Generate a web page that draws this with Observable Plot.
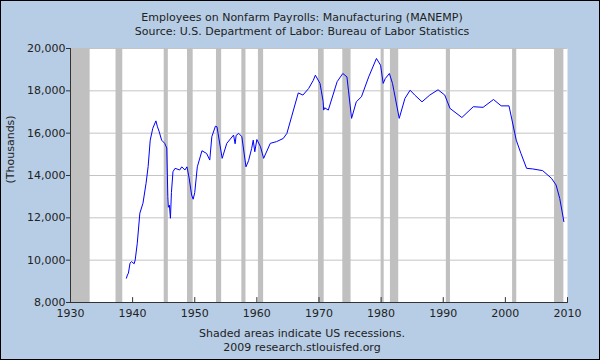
<!DOCTYPE html>
<html>
<head>
<meta charset="utf-8">
<script src="https://cdn.jsdelivr.net/npm/d3@7"></script>
<script src="https://cdn.jsdelivr.net/npm/@observablehq/plot@0.6"></script>
<style>
  html, body { margin: 0; padding: 0; background: #b7cde5; }
  #chart svg { display: block; outline: 1px solid #000; outline-offset: -1px; }
</style>
</head>
<body>
<div id="chart"></div>
<script>
const titleText = "Employees on Nonfarm Payrolls: Manufacturing (MANEMP)";
const subtitleText = "Source: U.S. Department of Labor: Bureau of Labor Statistics";
const captionLine1 = "Shaded areas indicate US recessions.";
const captionLine2 = "2009 research.stlouisfed.org";
const yAxisLabel = "(Thousands)";

const months = [
  "1939-01","1939-03","1939-05","1939-08","1939-11","1940-04","1940-06","1940-10",
  "1941-03","1941-09","1942-03","1942-07","1942-11","1943-04","1943-10","1944-01",
  "1944-04","1944-09","1945-03","1945-07","1945-09","1945-10","1945-12","1946-02",
  "1946-04","1946-07","1946-11","1947-08","1947-12","1948-06","1948-10","1949-02",
  "1949-07","1949-10","1950-01","1950-06","1951-03","1951-12","1952-06","1952-10",
  "1953-05","1953-08","1954-06","1955-03","1956-04","1956-07","1956-09","1957-02",
  "1957-08","1958-04","1958-09","1959-03","1959-06","1959-09","1960-01","1960-08",
  "1961-02","1962-03","1963-03","1964-04","1964-11","1965-08","1966-09","1967-06",
  "1968-05","1969-02","1969-06","1970-03","1970-09","1970-10","1970-12","1971-07",
  "1972-12","1973-11","1974-07","1975-04","1976-01","1976-11","1978-01","1979-04",
  "1979-12","1980-05","1980-09","1981-05","1981-11","1982-12","1983-11","1984-09",
  "1985-06","1986-08","1987-11","1989-03","1990-04","1991-02","1993-01","1994-11",
  "1996-06","1998-02","1999-05","2000-08","2001-10","2002-07","2003-06","2004-06",
  "2006-01","2007-06","2008-03","2008-10","2009-02","2009-06"
];
const employees = [
  9150, 9300, 9390, 9860, 9930, 9830, 10010, 10800,
  12220, 12690, 13630, 14420, 15670, 16230, 16580, 16300,
  16100, 15670, 15520, 15300, 13000, 12500, 12600, 11980,
  13200, 14180, 14340, 14260, 14410, 14260, 14410, 13900,
  13080, 12880, 13200, 14410, 15170, 15040, 14730, 15830,
  16330, 16300, 14810, 15520, 15910, 15500, 15900, 15990,
  15830, 14410, 14700, 15280, 15670, 15120, 15700, 15360,
  14810, 15520, 15600, 15750, 15990, 16770, 17900, 17800,
  18110, 18500, 18740, 18350, 17500, 17090, 17200, 17090,
  18430, 18820, 18660, 16700, 17480, 17720, 18660, 19530,
  19210, 18350, 18580, 18820, 18350, 16700, 17640, 18030,
  17800, 17480, 17800, 18050, 17800, 17170, 16740, 17250,
  17220, 17590, 17290, 17290, 15670, 15050, 14340, 14310,
  14230, 13870, 13550, 12920, 12370, 11820
];

const recessionStarts = ["1929-08","1937-05","1945-02","1948-11","1953-07","1957-08","1960-04","1969-12","1973-11","1980-01","1981-07","1990-07","2001-03","2007-12"];
const recessionEnds   = ["1933-03","1938-06","1945-10","1949-10","1954-05","1958-04","1961-02","1970-11","1975-03","1980-07","1982-11","1991-03","2001-11","2009-06"];

const xTickYears = ["1930","1940","1950","1960","1970","1980","1990","2000","2010"];
const yTickValues = [8000, 10000, 12000, 14000, 16000, 18000, 20000];

const parseMonth = d3.utcParse("%Y-%m");
const parseYear = d3.utcParse("%Y");
const series = months.map((m, i) => ({date: parseMonth(m), value: employees[i]}));
const recessions = recessionStarts.map((s, i) => ({start: parseMonth(s), end: parseMonth(recessionEnds[i])}));
const xTicks = xTickYears.map(parseYear);

const tickUp = {draw(context, l) { context.moveTo(0, 0); context.lineTo(0, -l); }};

const chart = Plot.plot({
  width: 600,
  height: 360,
  marginLeft: 70,
  marginRight: 33,
  marginTop: 48,
  marginBottom: 58,
  style: {background: "#b7cde5", fontFamily: "DejaVu Sans, Verdana, sans-serif", fontSize: "11px", color: "#222", overflow: "visible"},
  x: {type: "utc", domain: [xTicks[0], xTicks[xTicks.length - 1]]},
  y: {domain: [yTickValues[0], yTickValues[yTickValues.length - 1]]},
  marks: [
    Plot.frame({fill: "white", stroke: null}),
    Plot.gridY(yTickValues, {stroke: "#c4c4c4", strokeOpacity: 1}),
    Plot.rect(recessions, {x1: "start", x2: "end", fill: "#c0c0c0", clip: true}),
    Plot.line(series, {x: "date", y: "value", stroke: "#0000ff", strokeWidth: 1}),
    Plot.ruleY([yTickValues[0]], {stroke: "#333"}),
    Plot.ruleX([xTicks[0]], {stroke: "#333"}),
    Plot.axisY(yTickValues, {tickSize: 4, tickPadding: 1, tickFormat: d3.format(","), stroke: "#333", fill: "#222", label: null}),
    Plot.vector(xTicks, {x: d => d, frameAnchor: "bottom", length: 5, rotate: 0, anchor: "start", shape: tickUp, stroke: "#333", strokeWidth: 1}),
    Plot.axisX(xTicks, {tickSize: 0, tickPadding: 7, tickFormat: d3.utcFormat("%Y"), fill: "#222", label: null}),
    Plot.text([yAxisLabel], {text: d => d, frameAnchor: "left", dx: -60, dy: 8, rotate: -90, fill: "#222"}),
    Plot.text([titleText], {text: d => d, frameAnchor: "top", dx: -17, dy: -35, fill: "#222"}),
    Plot.text([subtitleText], {text: d => d, frameAnchor: "top", dx: -17, dy: -21, fill: "#222"}),
    Plot.text([captionLine1], {text: d => d, frameAnchor: "bottom", dx: -17, dy: 34, fill: "#222"}),
    Plot.text([captionLine2], {text: d => d, frameAnchor: "bottom", dx: -17, dy: 48, fill: "#222"})
  ]
});
document.getElementById("chart").appendChild(chart);
</script>
</body>
</html>
